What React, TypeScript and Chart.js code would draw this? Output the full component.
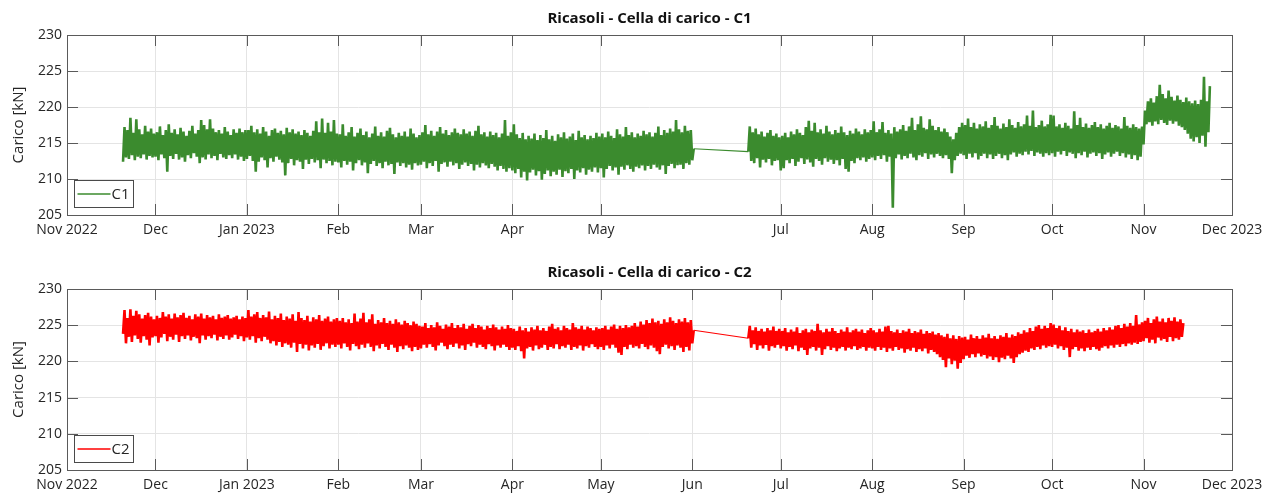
import React, { useEffect, useRef } from "react";
import { Chart, registerables } from "chart.js";

Chart.register(...registerables);

// ---------- axis labels ----------
const monthLabels = ["Nov 2022", "Dec", "Jan 2023", "Feb", "Mar", "Apr", "May", "Jun", "Jul", "Aug", "Sep", "Oct", "Nov", "Dec 2023"];
const c1HiddenMonths = ["Jun"];
const yTickValues = [205, 210, 215, 220, 225, 230];

// ---------- C1 : daily low / high (kN) ----------
const c1StartA = "2022-11-20";
const c1LowA = [
  212.4, 213.0, 212.8, 213.3, 212.6, 213.1, 212.9, 213.4, 212.7, 213.2, 213.0,
  213.1, 212.6, 213.4, 212.9, 211.0, 213.2, 212.8, 213.5, 212.7, 213.0, 212.4, 213.3, 212.9, 213.6, 213.1, 212.2, 213.0, 212.7, 213.4, 212.9, 213.2, 212.6, 213.5, 213.0, 212.8, 213.3, 212.9, 213.4, 212.7, 213.1, 212.5,
  212.8, 213.2, 212.5, 211.0, 212.4, 213.0, 212.6, 211.6, 212.9, 212.4, 213.1, 212.7, 212.3, 210.5, 212.2, 212.8, 211.9, 212.6, 212.4, 211.4, 212.7, 212.1, 212.8, 212.3, 212.6, 211.5, 212.7, 212.2, 212.5, 211.9, 212.4,
  212.3, 211.6, 212.5, 212.0, 212.4, 211.2, 212.2, 212.6, 211.9, 212.3, 210.8, 212.1, 212.5, 211.8, 212.2, 211.5, 212.4, 211.9, 212.1, 210.7, 212.3, 211.8, 212.2, 211.6, 212.0, 211.3, 212.2, 211.9,
  212.0, 212.4, 211.5, 212.2, 211.8, 212.5, 211.0, 212.1, 212.3, 211.7, 212.4, 211.9, 212.2, 211.4, 212.0, 212.3, 211.8, 212.1, 211.2, 212.0, 211.6, 212.2, 211.9, 211.5, 212.1, 211.7, 211.2, 211.8, 211.4, 211.0, 211.5,
  211.2, 210.8, 211.4, 210.2, 211.0, 209.8, 210.9, 211.3, 210.5, 211.1, 209.9, 210.7, 211.2, 210.4, 211.0, 210.6, 211.3, 210.3, 211.1, 210.8, 211.4, 210.0, 211.2, 210.9, 211.5, 210.6, 211.3, 211.0, 211.6, 210.9,
  211.5, 210.2, 211.4, 211.8, 211.2, 211.6, 210.6, 211.7, 211.3, 211.9, 211.4, 211.0, 211.7, 211.5, 211.9, 211.2, 211.8, 211.4, 212.0, 211.6, 211.3, 211.9, 210.7, 211.8, 212.1, 211.5, 211.9, 212.0, 211.4, 212.2, 212.0,
  212.6,
];
const c1HighA = [
  217.2, 216.8, 218.5, 216.4, 218.3, 216.9, 216.2, 217.4, 216.6, 217.0, 216.3,
  216.5, 217.3, 216.1, 216.8, 217.6, 216.4, 216.9, 216.2, 217.1, 216.6, 216.0, 216.7, 217.4, 216.3, 216.8, 218.2, 217.5, 216.9, 218.3, 217.0, 216.5, 216.8, 216.3, 217.2, 216.6, 216.1, 216.9, 216.4, 217.0, 216.5, 216.8,
  216.8, 217.4, 216.5, 216.9, 216.3, 217.2, 216.6, 216.0, 216.8, 217.0, 216.4, 216.7, 216.2, 217.1, 216.5, 216.9, 216.3, 216.6, 216.1, 216.8, 216.4, 216.0, 216.7, 218.0, 216.5, 218.4, 216.4, 217.8, 216.6, 218.2, 216.3,
  216.2, 217.6, 216.0, 216.5, 217.2, 215.9, 216.4, 217.0, 216.1, 216.6, 215.8, 216.3, 217.3, 216.0, 216.5, 215.9, 216.7, 217.1, 216.2, 215.8, 216.4, 216.0, 216.6, 215.9, 217.0, 216.3, 215.8, 216.1,
  216.5, 217.5, 216.2, 216.7, 216.0, 216.6, 217.2, 216.3, 216.8, 216.1, 216.5, 217.0, 216.4, 216.2, 216.9, 216.3, 216.6, 216.0, 216.7, 217.4, 216.2, 216.5, 215.9, 216.6, 216.1, 216.4, 215.8, 216.3, 218.2, 216.0, 216.5,
  217.6, 216.2, 215.7, 216.4, 215.5, 216.0, 215.6, 216.3, 215.4, 216.1, 215.7, 216.8, 215.5, 216.0, 215.3, 216.2, 215.8, 216.5, 215.6, 215.9, 216.3, 215.4, 216.7, 215.8, 216.1, 215.5, 216.0, 215.7, 216.4, 215.9,
  216.3, 215.8, 216.6, 216.0, 215.7, 216.9, 216.2, 215.9, 217.2, 216.1, 216.5, 215.8, 216.3, 216.0, 216.7, 216.2, 216.5, 215.9, 216.4, 217.3, 216.1, 216.8, 216.4, 217.0, 216.6, 218.2, 216.9, 216.5, 217.4, 216.7, 216.8,
  214.2,
];
const c1StartB = "2023-06-20";
const c1LowB = [
  213.8, 212.5, 212.2, 212.9, 211.6, 212.7, 212.3, 212.8, 211.9, 212.5, 212.6,
  211.2, 211.5, 212.6, 212.2, 212.8, 211.8, 212.4, 212.9, 212.1, 212.7, 212.3, 211.7, 212.8, 212.5, 212.0, 212.9, 212.4, 212.7, 212.1, 212.6, 211.9, 212.8, 211.4, 211.0, 212.5, 212.2, 212.9, 212.6, 213.0, 212.4, 212.8,
  213.0, 212.6, 213.2, 212.8, 213.3, 212.4, 213.1, 206.0, 212.9, 213.4, 212.7, 213.2, 212.9, 213.5, 213.0, 212.6, 213.3, 213.1, 213.6, 212.8, 213.4, 213.0, 213.5, 213.2, 212.9, 213.3, 212.8, 210.8, 212.6, 213.2, 213.5,
  213.3, 212.8, 213.5, 213.0, 213.6, 212.7, 213.2, 213.5, 212.9, 213.4, 212.8, 213.2, 213.5, 212.9, 213.3, 212.6, 213.4, 213.7, 213.1, 213.5, 213.3, 213.8, 213.4, 213.9, 213.2, 213.7, 213.5, 213.1, 213.6, 213.3,
  213.6, 213.1, 213.8, 213.4, 213.9, 213.2, 213.7, 213.5, 212.9, 213.6, 213.3, 213.8, 213.0, 213.5, 213.7, 213.2, 213.6, 212.8, 213.4, 213.7, 213.1, 213.5, 213.8, 213.2, 213.6, 213.0, 213.4, 212.8, 213.3, 212.6, 213.1,
  214.8, 217.6, 217.9, 217.4, 218.0, 217.6, 218.2, 217.8, 217.5, 218.1, 217.7, 218.0, 217.4, 217.2, 216.8, 216.3, 215.6, 215.2, 215.8, 215.0, 216.0, 214.5, 216.5,
];
const c1HighB = [
  217.3, 216.5, 217.0, 216.2, 216.6, 215.9, 216.4, 216.8, 216.0, 216.3, 215.8,
  216.0, 216.4, 215.8, 216.6, 216.2, 216.9, 216.4, 216.1, 217.2, 218.1, 216.7, 217.8, 216.5, 216.9, 216.3, 217.4, 216.6, 216.2, 216.8, 216.4, 217.3, 216.5, 216.1, 216.7, 216.3, 217.0, 216.6, 216.2, 216.9, 216.5, 216.8,
  218.0, 216.5, 216.9, 217.9, 216.4, 216.8, 216.3, 217.2, 216.6, 216.9, 217.5, 216.7, 217.3, 218.5, 216.8, 217.6, 218.7, 217.1, 216.9, 218.3, 217.4, 216.8, 217.2, 216.6, 217.0, 216.5, 215.9, 215.5, 216.4, 217.2, 217.8,
  217.5, 218.4, 217.2, 217.8, 217.0, 217.6, 217.3, 218.0, 217.1, 217.5, 218.6, 217.4, 217.0, 217.7, 217.2, 218.3, 217.5, 217.1, 217.9, 217.3, 217.6, 218.8, 217.4, 219.5, 217.2, 217.5, 218.1, 217.3, 217.6, 218.9,
  218.8, 217.3, 217.6, 217.1, 217.8, 217.4, 217.0, 219.4, 217.5, 218.5, 217.2, 217.7, 217.1, 217.5, 217.9, 217.2, 217.6, 217.0, 217.4, 217.8, 217.1, 217.5, 217.3, 217.0, 218.6, 217.4, 217.1, 217.6, 217.2, 217.0, 217.3,
  219.5, 220.8, 221.2, 220.6, 221.5, 223.1, 221.8, 221.2, 222.3, 221.4, 220.9, 221.6, 221.0, 220.7, 221.3, 220.8, 220.5, 220.9, 220.4, 221.0, 224.2, 220.8, 222.9,
];

// ---------- C2 : daily low / high (kN) ----------
const c2StartA = "2022-11-20";
const c2LowA = [
  223.8, 222.5, 223.4, 222.7, 223.6, 223.1, 222.6, 223.5, 223.0, 222.2, 223.3,
  223.5, 222.6, 223.3, 223.8, 222.8, 223.4, 223.0, 223.7, 222.7, 223.5, 223.1, 223.6, 222.9, 223.4, 223.2, 222.5, 223.6, 223.0, 223.5, 223.2, 223.7, 222.9, 223.4, 223.1, 223.6, 223.0, 223.3, 223.7, 223.1, 223.5, 222.8,
  223.3, 223.0, 223.5, 222.6, 223.2, 222.8, 223.4, 223.0, 222.5, 222.8, 222.2, 222.7, 222.0, 222.5, 222.3, 221.9, 222.6, 221.3, 222.4, 221.8, 222.3, 221.5, 222.2, 221.9, 222.4, 221.6, 222.1, 222.5, 221.8, 222.3, 222.0,
  222.3, 221.8, 222.5, 222.0, 221.5, 222.4, 222.1, 221.7, 222.3, 221.9, 222.5, 222.0, 221.4, 222.2, 221.8, 222.4, 222.0, 221.6, 222.3, 221.9, 221.3, 222.1, 221.7, 222.2, 221.9, 221.4, 222.0, 221.6,
  221.8, 222.3, 221.9, 222.4, 222.0, 221.5, 222.2, 222.6, 222.1, 221.7, 222.3, 222.0, 222.5, 221.8, 222.2, 221.6, 222.4, 222.1, 222.6, 221.9, 222.3, 222.0, 221.7, 222.4, 222.1, 221.5, 222.2, 221.9, 222.3, 222.0, 221.6,
  221.9, 221.6, 222.1, 221.4, 220.4, 221.8, 222.0, 221.5, 222.2, 221.7, 221.9, 222.3, 221.6, 222.0, 221.8, 222.4, 221.7, 222.1, 221.9, 222.3, 221.6, 222.0, 221.8, 222.2, 221.5, 222.1, 221.9, 222.4, 222.0, 221.7,
  222.0, 221.6, 222.2, 221.8, 222.3, 221.9, 221.2, 220.9, 222.0, 221.7, 222.3, 221.9, 222.1, 221.8, 222.4, 222.0, 221.7, 222.2, 221.9, 221.4, 221.0, 222.0, 222.3, 221.8, 222.1, 221.6, 222.2, 221.9, 221.3, 222.0, 221.5,
  222.5,
];
const c2HighA = [
  227.1, 226.0, 227.2, 226.3, 227.0, 226.5, 225.9, 226.4, 226.7, 226.2, 225.8,
  226.3, 226.0, 226.8, 226.2, 226.5, 225.9, 226.6, 226.1, 226.4, 226.7, 226.0, 226.3, 225.8, 226.5, 226.2, 226.6, 225.9, 226.4, 226.1, 226.3, 225.8, 226.5, 226.0, 226.2, 226.4, 225.9, 226.1, 226.3, 225.8, 226.2, 226.0,
  227.1, 226.2, 226.5, 226.8, 226.0, 226.4, 226.1, 226.9, 225.8, 226.3, 226.0, 226.6, 225.7, 226.2, 225.9, 226.5, 225.6, 226.8, 226.0, 225.7, 226.3, 225.5, 226.1, 225.8, 226.4, 225.6, 225.9, 226.2, 225.5, 225.8, 226.0,
  225.6, 226.0, 225.4, 225.8, 225.3, 226.6, 225.5, 225.9, 226.7, 225.4, 225.8, 226.5, 225.2, 225.7, 225.4, 226.0, 225.3, 225.6, 225.2, 225.8, 225.4, 225.1, 225.6, 225.3, 225.0, 225.5, 225.2, 224.9,
  224.8, 225.3, 224.6, 225.0, 224.7, 225.4, 224.9, 224.5, 225.1, 224.8, 225.3, 224.6, 225.0, 224.7, 225.2, 224.5, 224.9, 225.2, 224.6, 225.0, 224.8, 224.4, 224.9, 224.6, 225.1, 224.7, 224.4, 224.8, 224.5, 225.0, 224.6,
  224.5, 224.2, 224.8, 224.3, 224.6, 224.1, 224.7, 224.4, 224.9, 224.3, 224.6, 224.2, 224.8, 225.2, 224.5, 224.7, 224.3, 224.9, 224.6, 224.4, 225.3, 224.7, 224.5, 224.9, 224.4, 224.8, 224.6, 224.3, 224.7, 224.5,
  224.6, 224.9, 224.4, 224.8, 225.1, 224.5, 224.9, 224.6, 225.0, 224.7, 224.9, 225.3, 224.8, 225.5, 225.1, 225.7, 225.3, 225.9, 225.4, 225.6, 225.2, 225.8, 225.4, 226.1, 225.6, 225.3, 225.8, 225.5, 226.0, 225.4, 225.7,
  224.3,
];
const c2StartB = "2023-06-20";
const c2LowB = [
  223.2, 221.9, 222.4, 221.6, 222.2, 221.8, 222.3, 221.5, 222.1, 221.9, 222.3,
  221.8, 222.1, 221.5, 222.0, 221.7, 222.2, 221.4, 221.9, 221.6, 220.9, 221.8, 222.0, 221.5, 221.9, 220.9, 221.7, 222.1, 221.6, 221.9, 221.4, 221.8, 222.0, 221.5, 221.9, 221.7, 222.1, 221.6, 221.8, 222.0, 221.5, 221.9,
  221.8, 221.5, 222.0, 221.6, 221.9, 221.3, 221.8, 221.5, 222.0, 221.6, 221.8, 221.2, 221.7, 221.5, 221.9, 221.3, 221.7, 221.4, 221.8, 221.1, 221.6, 221.3, 221.0, 220.6, 220.2, 219.2, 220.4, 219.6, 220.1, 219.0, 219.8,
  220.3, 220.8, 220.5, 221.0, 220.6, 221.1, 220.7, 220.9, 220.4, 220.7, 220.2, 220.6, 219.9, 220.5, 220.3, 220.8, 220.4, 219.8, 220.6, 221.0, 221.2, 221.5, 221.3, 221.8, 221.6, 222.0, 221.7, 222.2, 221.9, 222.1,
  222.0, 222.3, 221.8, 222.1, 221.6, 221.9, 220.6, 221.7, 222.0, 221.5, 221.8, 221.4, 221.9, 221.6, 222.0, 221.7, 221.5, 221.9, 222.1, 221.8, 222.2, 221.9, 222.3, 222.0, 222.4, 222.1, 222.5, 222.3, 222.6, 222.4, 222.7,
  222.8, 223.2, 222.6, 223.0, 222.5, 223.3, 222.9, 223.1, 222.7, 223.4, 222.8, 223.2, 223.0, 223.4,
];
const c2HighB = [
  224.9, 224.3, 224.7, 224.2, 224.5, 224.1, 224.6, 224.3, 224.8, 224.2, 224.5,
  224.2, 224.6, 224.0, 224.4, 224.1, 224.7, 223.9, 224.3, 224.5, 224.0, 224.4, 224.2, 225.2, 224.3, 224.0, 224.5, 224.1, 224.6, 224.2, 223.9, 224.4, 224.1, 224.7, 224.0, 224.3, 224.5, 224.1, 224.4, 223.9, 224.3, 224.6,
  224.3, 224.0, 224.5, 224.1, 224.8, 224.9, 224.2, 224.0, 224.4, 223.9, 224.3, 224.1, 224.5, 223.9, 224.2, 224.0, 224.4, 223.8, 224.2, 223.9, 224.1, 223.7, 223.9, 223.6, 223.4, 223.8, 223.2, 223.6, 223.1, 223.5, 223.3,
  223.4, 223.0, 223.7, 223.2, 223.5, 223.1, 223.6, 223.3, 223.8, 223.2, 223.5, 223.1, 223.6, 223.4, 223.9, 223.3, 223.7, 223.5, 224.0, 223.8, 224.3, 224.0, 224.6, 224.2, 224.8, 225.0, 224.5, 224.9, 224.6, 225.3,
  225.1, 224.6, 224.9, 224.3, 224.7, 224.2, 224.5, 224.0, 224.4, 224.1, 224.3, 223.9, 224.4, 224.0, 224.2, 224.5, 224.1, 224.6, 224.3, 224.7, 224.4, 224.9, 225.0, 224.6, 225.2, 224.8, 225.3, 224.9, 226.4, 225.1, 225.4,
  225.6, 226.0, 225.3, 225.8, 226.2, 225.5, 225.9, 225.4, 226.0, 225.6, 226.1, 225.5, 225.8, 225.3,
];

// ---------- helpers ----------
const ORIGIN = Date.UTC(2022, 10, 1);
const DAY = 86400000;
const dayOf = (iso: string) => (Date.parse(iso + "T00:00:00Z") - ORIGIN) / DAY;
const monthTicks = monthLabels.map((_, i) => (Date.UTC(2022, 10 + i, 1) - ORIGIN) / DAY);

type Seg = { start: string; lo: number[]; hi: number[] };
function buildPoints(segs: Seg[]) {
  const pts: { x: number; y: number }[] = [];
  segs.forEach((s) => {
    const d0 = dayOf(s.start);
    for (let i = 0; i < s.lo.length; i++) {
      pts.push({ x: d0 + i, y: s.lo[i] });
      if (i < s.hi.length) pts.push({ x: d0 + i + 0.5, y: s.hi[i] });
    }
  });
  return pts;
}

const FONT = "'Open Sans', 'DejaVu Sans', sans-serif";
const TEXT = "#262626";
const AXIS = "#5a5a5a";
const GRID = "#e4e4e4";

const framePlugin = {
  id: "matlabFrame",
  afterDatasetsDraw(chart: any) {
    const { ctx, chartArea, scales } = chart;
    const { left, right, top, bottom } = chartArea;
    const x = scales.x;
    const y = scales.y;
    const TL = 11;
    ctx.save();
    ctx.strokeStyle = AXIS;
    ctx.lineWidth = 1;
    ctx.beginPath();
    x.ticks.forEach((t: any) => {
      const px = Math.round(x.getPixelForValue(t.value)) + 0.5;
      ctx.moveTo(px, bottom);
      ctx.lineTo(px, bottom - TL);
      ctx.moveTo(px, top);
      ctx.lineTo(px, top + TL);
    });
    y.ticks.forEach((t: any) => {
      const py = Math.round(y.getPixelForValue(t.value)) + 0.5;
      ctx.moveTo(left, py);
      ctx.lineTo(left + TL, py);
      ctx.moveTo(right, py);
      ctx.lineTo(right - TL, py);
    });
    ctx.stroke();
    ctx.strokeRect(Math.round(left) + 0.5, Math.round(top) + 0.5, Math.round(right - left), Math.round(bottom - top));

    // legend box (inside, lower-left)
    const ds = chart.data.datasets[0];
    const bx = Math.round(left) + 7.5;
    const bw = 59;
    const bh = 27;
    const by = Math.round(bottom) - 7.5 - bh;
    ctx.fillStyle = "#ffffff";
    ctx.fillRect(bx, by, bw, bh);
    ctx.strokeStyle = "#4a4a4a";
    ctx.lineWidth = 1;
    ctx.strokeRect(bx, by, bw, bh);
    ctx.strokeStyle = ds.borderColor;
    ctx.lineWidth = 1.6;
    ctx.beginPath();
    ctx.moveTo(bx + 3, by + bh / 2);
    ctx.lineTo(bx + 36, by + bh / 2);
    ctx.stroke();
    ctx.fillStyle = TEXT;
    ctx.font = `15px ${FONT}`;
    ctx.textBaseline = "middle";
    ctx.textAlign = "left";
    ctx.fillText(ds.label, bx + 37, by + bh / 2 + 1);
    ctx.restore();
  },
};

function makeConfig(title: string, label: string, color: string, data: any[], hidden: string[], xAxisHeight: number): any {
  const tickVals = monthTicks.filter((_, i) => !hidden.includes(monthLabels[i]));
  return {
    type: "line",
    data: {
      datasets: [
        {
          label,
          data,
          borderColor: color,
          backgroundColor: color,
          borderWidth: 2.6,
          borderJoinStyle: "bevel",
          pointRadius: 0,
          tension: 0,
          fill: false,
          segment: {
            borderWidth: (c: any) => (c.p1.parsed.x - c.p0.parsed.x > 2 ? 1.2 : undefined),
          },
        },
      ],
    },
    options: {
      responsive: false,
      animation: false,
      events: [],
      layout: { padding: { left: 0, right: 48, top: 0, bottom: 0 } },
      plugins: {
        legend: { display: false },
        tooltip: { enabled: false },
        title: {
          display: true,
          text: title,
          fullSize: false,
          color: "#111111",
          font: { family: FONT, size: 15, weight: "bold", lineHeight: 1.2 },
          padding: { top: 10, bottom: 7 },
        },
      },
      scales: {
        x: {
          type: "linear",
          min: 0,
          max: monthTicks[monthTicks.length - 1],
          afterBuildTicks: (s: any) => {
            s.ticks = tickVals.map((v) => ({ value: v }));
          },
          afterFit: (s: any) => {
            s.height = xAxisHeight;
          },
          ticks: {
            autoSkip: false,
            maxRotation: 0,
            padding: 7,
            color: TEXT,
            font: { family: FONT, size: 14 },
            callback: (v: number) => {
              const i = monthTicks.indexOf(v);
              return i >= 0 ? monthLabels[i] : "";
            },
          },
          grid: { color: GRID, drawTicks: false, lineWidth: 1 },
          border: { display: false },
        },
        y: {
          min: yTickValues[0],
          max: yTickValues[yTickValues.length - 1],
          afterBuildTicks: (s: any) => {
            s.ticks = yTickValues.map((v) => ({ value: v }));
          },
          afterFit: (s: any) => {
            s.width = 67;
          },
          ticks: {
            padding: 5,
            color: TEXT,
            font: { family: FONT, size: 14 },
            callback: (v: number) => String(v),
          },
          grid: { color: GRID, drawTicks: false, lineWidth: 1 },
          border: { display: false },
          title: {
            display: true,
            text: "Carico [kN]",
            color: TEXT,
            font: { family: FONT, size: 15, lineHeight: 1.2 },
            padding: { top: 10, bottom: 0 },
          },
        },
      },
    },
    plugins: [framePlugin],
  };
}

function ChartCanvas({ config, width, height, top }: { config: any; width: number; height: number; top: number }) {
  const ref = useRef<HTMLCanvasElement | null>(null);
  useEffect(() => {
    if (!ref.current) return;
    const chart = new Chart(ref.current, config);
    return () => chart.destroy();
  }, [config]);
  return (
    <canvas
      ref={ref}
      width={width}
      height={height}
      style={{ position: "absolute", left: 0, top, width, height, display: "block" }}
    />
  );
}

const c1Points = buildPoints([
  { start: c1StartA, lo: c1LowA, hi: c1HighA },
  { start: c1StartB, lo: c1LowB, hi: c1HighB },
]);
const c2Points = buildPoints([
  { start: c2StartA, lo: c2LowA, hi: c2HighA },
  { start: c2StartB, lo: c2LowB, hi: c2HighB },
]);

const config1 = makeConfig("Ricasoli - Cella di carico - C1", "C1", "#3b8b2e", c1Points, c1HiddenMonths, 33);
const config2 = makeConfig("Ricasoli - Cella di carico - C2", "C2", "#ff0000", c2Points, [], 25);

export default function App() {
  return (
    <div style={{ position: "absolute", left: 0, top: 0, width: 1280, height: 495, background: "#ffffff", overflow: "hidden" }}>
      <ChartCanvas config={config1} width={1280} height={248} top={0} />
      <ChartCanvas config={config2} width={1280} height={241} top={254} />
    </div>
  );
}
